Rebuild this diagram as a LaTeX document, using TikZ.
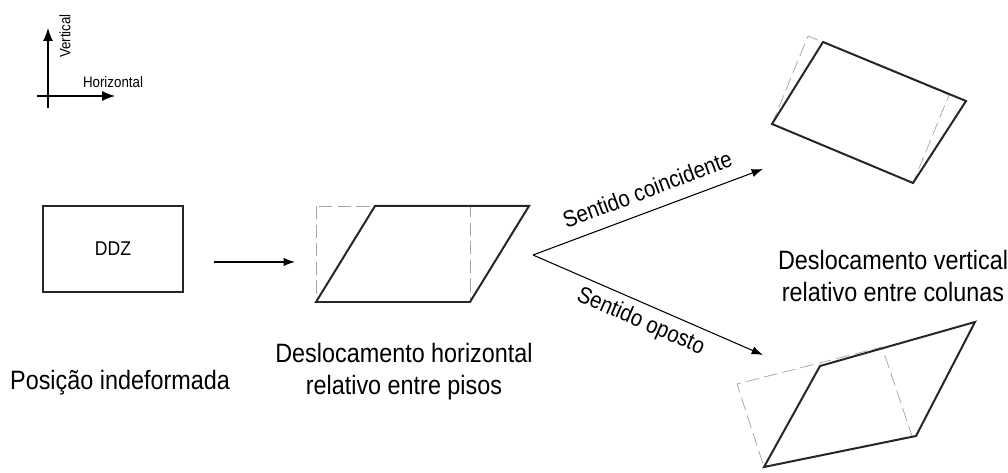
\documentclass[tikz,border=0pt]{standalone}
\usepackage{fontspec}
\setmainfont[FakeStretch=0.88]{Liberation Sans}
\usetikzlibrary{arrows.meta, positioning}

\begin{document}
\begin{tikzpicture}[
  x=0.02646cm, y=-0.02646cm,
  frame/.style={draw=black!85, line width=1.5pt, line join=miter},
  ghost/.style={draw=black!35, line width=0.55pt, dash pattern=on 10pt off 4pt},
  arr/.style={-{Latex[length=3mm, width=2.2mm]}, line width=0.8pt},
  axis/.style={-{Latex[length=3.4mm, width=2.6mm]}, line width=0.8pt},
  caption/.style={font=\fontsize{20}{24}\selectfont, align=center},
  tag/.style={font=\fontsize{17.5}{20}\selectfont},
  small/.style={font=\fontsize{11.4}{13}\selectfont},
]
  \useasboundingbox (0,0) rectangle (1008,473);

  % Reference axes
  \coordinate (vbot) at (48,108);
  \coordinate (vtop) at (48,28);
  \coordinate (hleft) at (37,96);
  \coordinate (hright) at (115,96);
  \draw[axis] (vbot) -- (vtop);
  \draw[axis] (hleft) -- (hright);
  \node[small, rotate=90] (lblv) at (65,36) {Vertical};
  \node[small] (lblh) at (113,82) {Horizontal};

  % Undeformed position
  \node[frame, line width=1.2pt, minimum width=3.7cm, minimum height=2.27cm, font=\fontsize{15}{17}\selectfont] (ddz) at (113,249) {DDZ};
  \node[caption] (undef) at (120,383) {Posição indeformada};

  % Horizontal drift
  \draw[ghost] (316,206) rectangle (470,302);
  \draw[frame] (316,302) -- (470,302) -- (529,206) -- (375,206) -- cycle;
  \node[caption] (hdrift) at (404,372) {Deslocamento horizontal\\relativo entre pisos};

  \coordinate (a0) at (214,262);
  \coordinate (a1) at (295,262);
  \draw[arr] (a0) -- (a1);

  % Fork
  \coordinate (fork) at (533,255);
  \coordinate (same) at (763,169);
  \coordinate (opp) at (763,355);
  \draw[arr] (fork) -- node[tag, sloped, above=6pt, pos=0.53] {Sentido coincidente} (same);
  \draw[arr] (fork) -- node[tag, sloped, below=2pt] {Sentido oposto} (opp);

  % Same sense: vertical drift
  \draw[ghost] (772,124) -- (913,183) -- (949,95) -- (808,36) -- cycle;
  \draw[frame] (772,124) -- (913,183) -- (966,101) -- (823,42) -- cycle;
  \node[caption] (vdrift) at (893,276) {Deslocamento vertical\\relativo entre colunas};

  % Opposite sense
  \draw[ghost] (764,467) -- (912,436) -- (882,347) -- (737,384) -- cycle;
  \draw[frame] (764,467) -- (916,436) -- (975,322) -- (820,366) -- cycle;

\end{tikzpicture}
\end{document}
